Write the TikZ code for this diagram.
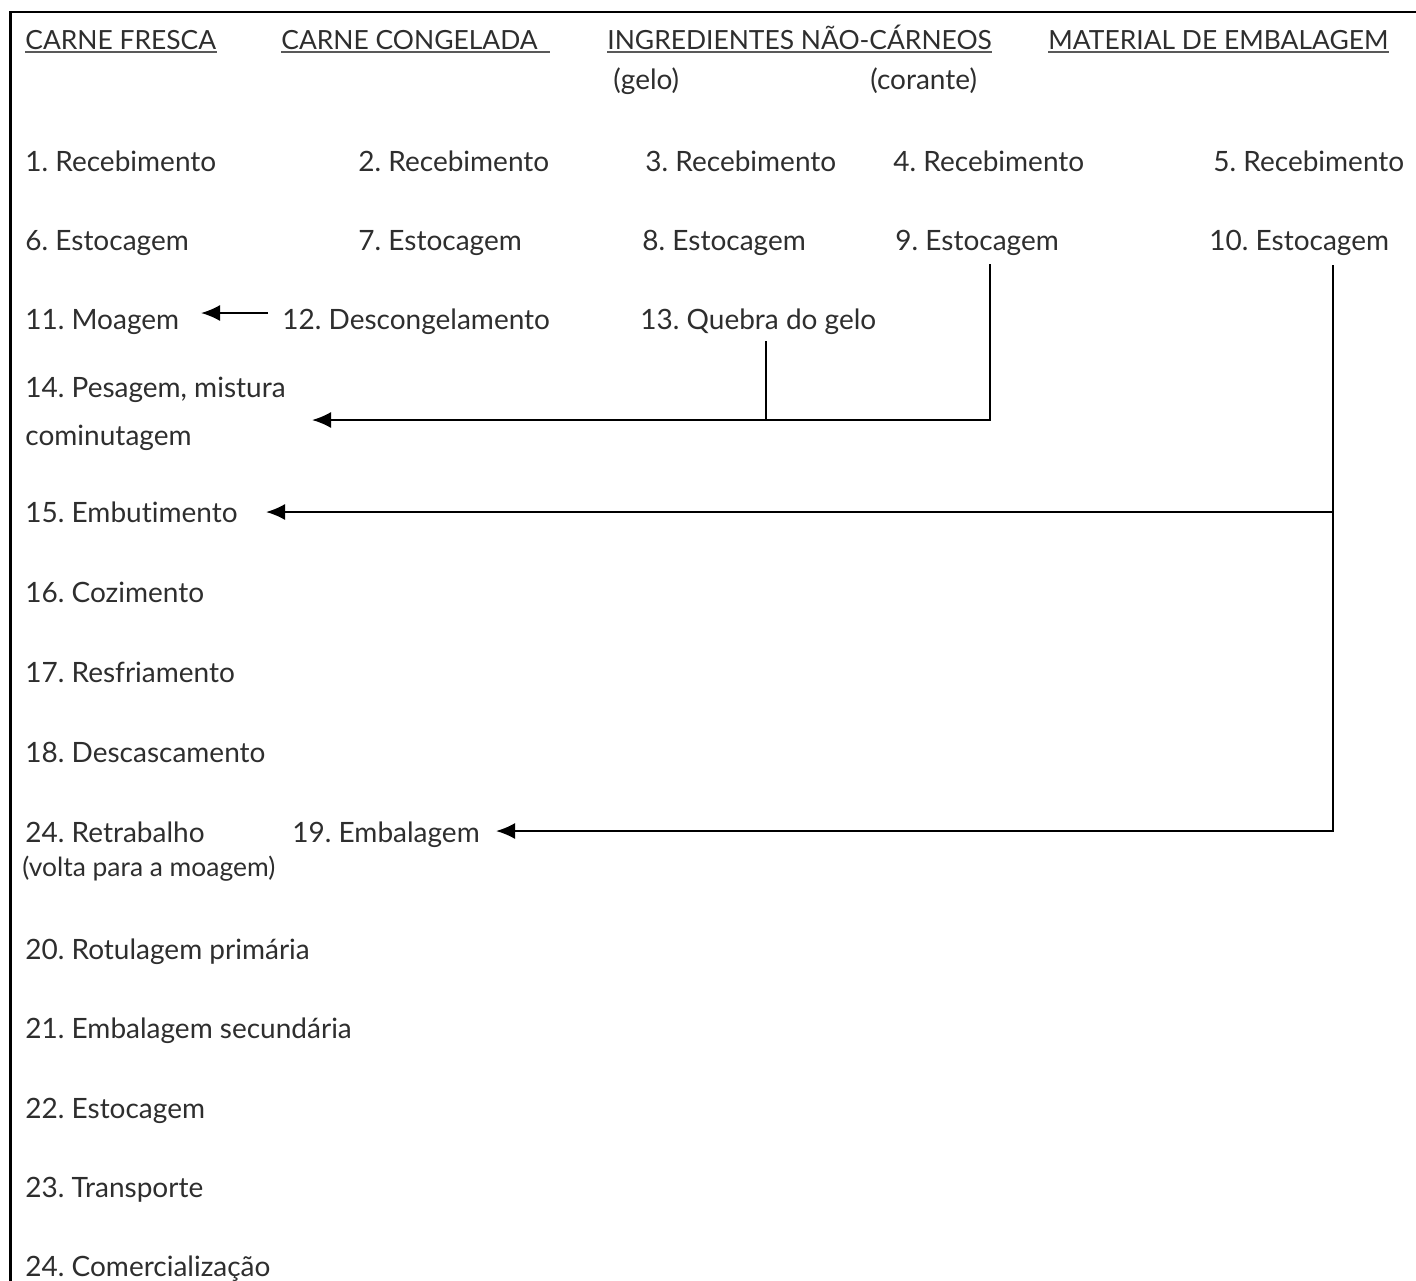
\documentclass[tikz,border=0pt]{standalone}
\usepackage{fontspec}
\setmainfont{Lato}[Ligatures={NoCommon}]
\usetikzlibrary{arrows.meta}
\frenchspacing
\begin{document}
\begin{tikzpicture}[x=0.5pt,y=-0.5pt,
  lbl/.style={anchor=base west,inner sep=0pt,text=black!82,font=\fontsize{14}{16}\selectfont},
  head/.style={lbl,font=\fontsize{13.2}{16}\selectfont},
  small/.style={lbl,font=\fontsize{13.2}{14}\selectfont},
  uline/.style={black!65,line width=0.6pt},
  conn/.style={line width=1pt,black},
  arr/.style={conn,-{Latex[length=9.5pt,width=8pt]}}]
\useasboundingbox (0,0) rectangle (1416,1280);
% frame (top and left)
\draw[line width=1.2pt] (10.5,1282) -- (10.5,12) -- (1418,12);
% headers
\node[head] (h1) at (25,49) {CARNE FRESCA};
\node[head] (h2) at (281,49) {CARNE CONGELADA};
\node[head] (h3) at (607,49) {INGREDIENTES NÃO-CÁRNEOS};
\node[head] (h4) at (1048,49) {MATERIAL DE EMBALAGEM};
\draw[uline] ([yshift=-1.5pt]h1.base west) -- ([yshift=-1.5pt]h1.base east);
\draw[uline] ([yshift=-1.5pt]h2.base west) -- ([yshift=-1.5pt,xshift=6pt]h2.base east);
\draw[uline] ([yshift=-1.5pt]h3.base west) -- ([yshift=-1.5pt]h3.base east);
\draw[uline] ([yshift=-1.5pt]h4.base west) -- ([yshift=-1.5pt]h4.base east);
\node[lbl] (gelo) at (613,89) {(gelo)};
\node[lbl] (corante) at (870,89) {(corante)};
% row 1
\node[lbl] (r1) at (25,171) {1. Recebimento};
\node[lbl] (r2) at (358,171) {2. Recebimento};
\node[lbl] (r3) at (645,171) {3. Recebimento};
\node[lbl] (r4) at (893,171) {4. Recebimento};
\node[lbl] (r5) at (1213,171) {5. Recebimento};
% row 2
\node[lbl] (s6) at (25,250) {6. Estocagem};
\node[lbl] (s7) at (358,250) {7. Estocagem};
\node[lbl] (s8) at (642,250) {8. Estocagem};
\node[lbl] (s9) at (895,250) {9. Estocagem};
\node[lbl] (s10) at (1209,250) {10. Estocagem};
% row 3
\node[lbl] (n11) at (25,329) {11. Moagem};
\node[lbl] (n12) at (282,329) {12. Descongelamento};
\node[lbl] (n13) at (640,329) {13. Quebra do gelo};
% column
\node[lbl] (n14) at (25,397) {14. Pesagem, mistura};
\node[lbl] (n14b) at (25,445) {cominutagem};
\node[lbl] (n15) at (25,522) {15. Embutimento};
\node[lbl] (n16) at (25,602) {16. Cozimento};
\node[lbl] (n17) at (25,682) {17. Resfriamento};
\node[lbl] (n18) at (25,762) {18. Descascamento};
\node[lbl] (n24r) at (25,842) {24. Retrabalho};
\node[lbl] (n19) at (292,842) {19. Embalagem};
\node[small] (volta) at (22,876) {(volta para a moagem)};
\node[lbl] (n20) at (25,959) {20. Rotulagem primária};
\node[lbl] (n21) at (25,1038) {21. Embalagem secundária};
\node[lbl] (n22) at (25,1118) {22. Estocagem};
\node[lbl] (n23) at (25,1197) {23. Transporte};
\node[lbl] (n24) at (25,1276) {24. Comercialização};
% connector points
\coordinate (s12) at (268,313);
\coordinate (e11) at (201,313);
\coordinate (t9) at (990,264);
\coordinate (t13) at (766,341);
\coordinate (e14) at (312,420);
\coordinate (t10) at (1333,265);
\coordinate (e15) at (266,512);
\coordinate (e19) at (496,831);
% connectors
\draw[arr] (s12) -- (e11);
\draw[arr] (t9) |- (e14);
\draw[conn] (t13) -- (t13 |- e14);
\draw[arr] (t10) |- (e19);
\draw[arr] (t10 |- e15) -- (e15);
\end{tikzpicture}
\end{document}
